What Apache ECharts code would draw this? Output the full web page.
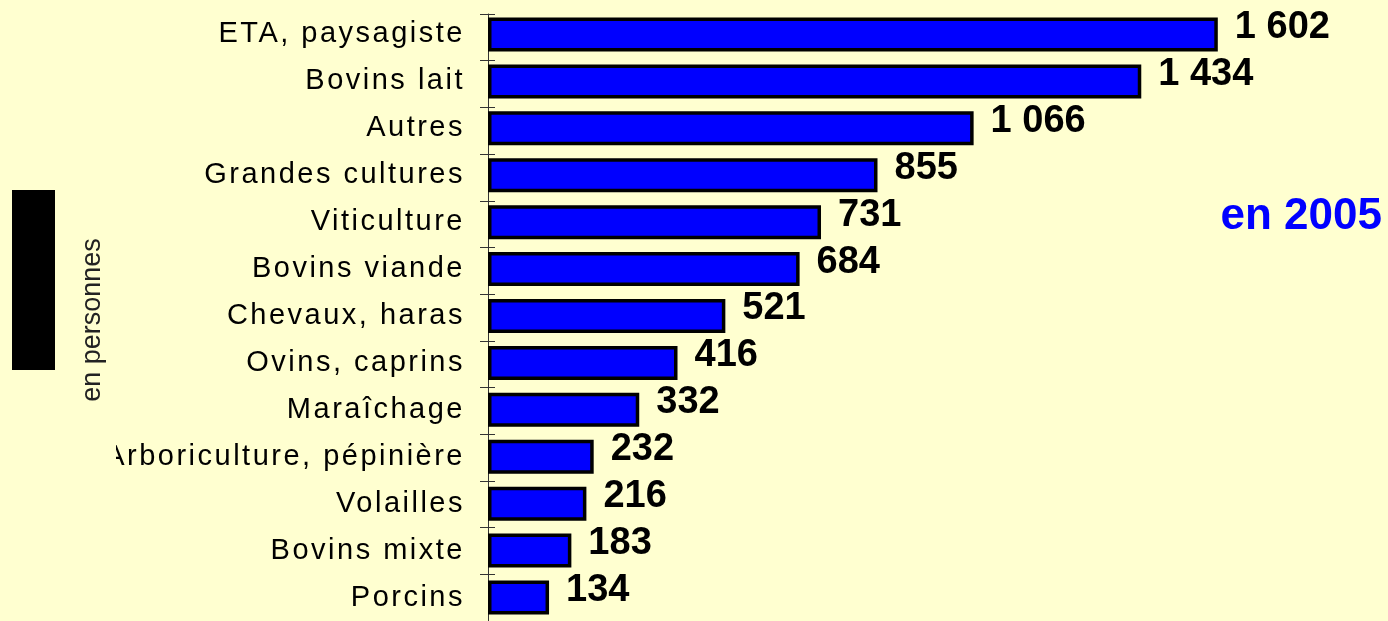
<!DOCTYPE html>
<html>
<head>
<meta charset="utf-8">
<script src="https://cdn.jsdelivr.net/npm/echarts@6/dist/echarts.min.js"></script>
<style>
  html, body { margin: 0; padding: 0; background: #ffffd0; }
  #chart { width: 1388px; height: 621px; }
</style>
</head>
<body>
<div id="chart"></div>
<script>
// catégories et effectifs (en personnes, 2005)
const categories = ['ETA, paysagiste', 'Bovins lait', 'Autres', 'Grandes cultures', 'Viticulture',
  'Bovins viande', 'Chevaux, haras', 'Ovins, caprins', 'Maraîchage', 'Arboriculture, pépinière',
  'Volailles', 'Bovins mixte', 'Porcins']
const values = [1602, 1434, 1066, 855, 731, 684, 521, 416, 332, 232, 216, 183, 134]
const unitLabel = 'en personnes'
const yearLabel = 'en 2005'

// labels de catégorie espacés : on règle letterSpacing sur le contexte canvas
const proto = CanvasRenderingContext2D.prototype
const origFill = proto.fillText
proto.fillText = function (t, x, y, w) {
  if ('letterSpacing' in this) {
    this.letterSpacing = this.font.indexOf('Arimo') >= 0 ? '2.5px' : '0px'
  }
  return w === undefined ? origFill.call(this, t, x, y) : origFill.call(this, t, x, y, w)
}

function fmt (v) {
  const s = String(v)
  return s.length > 3 ? s.slice(0, s.length - 3) + ' ' + s.slice(-3) : s
}

const chart = echarts.init(document.getElementById('chart'))
const slot = 47.06
const h = slot * categories.length

chart.setOption({
  backgroundColor: '#ffffd0',
  animation: false,
  grid: [
    { left: 488, top: 11, width: 820, height: h },
    { left: 488, top: 14, width: 820, height: h }
  ],
  xAxis: [
    { type: 'value', gridIndex: 0, min: 0, max: 1800, show: false },
    { type: 'value', gridIndex: 1, min: 0, max: 1800, show: false }
  ],
  yAxis: [
    {
      type: 'category',
      gridIndex: 0,
      position: 'left',
      inverse: true,
      data: categories,
      axisLine: { show: false },
      axisTick: { show: false },
      axisLabel: {
        margin: 23,
        padding: [5, 0, 0, 0],
        color: '#000',
        fontSize: 29,
        fontFamily: 'Arimo, "Liberation Sans", Arial, sans-serif'
      }
    },
    {
      type: 'category',
      gridIndex: 1,
      position: 'left',
      inverse: true,
      data: categories,
      axisLine: { show: true, lineStyle: { color: '#333', width: 1 } },
      axisTick: { show: true, length: 8, lineStyle: { color: '#333' } },
      axisLabel: { show: false }
    },
    {
      type: 'category',
      gridIndex: 1,
      position: 'left',
      offset: 0,
      inverse: true,
      data: categories,
      z: 5,
      axisLine: { show: false },
      axisTick: { show: true, inside: true, length: 7, lineStyle: { color: '#333' } },
      axisLabel: { show: false }
    }
  ],
  series: [
    {
      type: 'bar',
      xAxisIndex: 0,
      yAxisIndex: 0,
      data: values,
      barWidth: 34,
      itemStyle: { color: '#0000ff', borderColor: '#000', borderWidth: 3.5 },
      label: {
        show: true,
        position: 'right',
        distance: 17,
        offset: [0, -7],
        formatter: p => fmt(p.value),
        color: '#000',
        fontSize: 38,
        fontWeight: 'bold',
        fontFamily: '"Liberation Sans", Arial, sans-serif'
      }
    }
  ],
  graphic: [
    // la marge gauche coupe le libellé le plus long
    { type: 'rect', z: 100, shape: { x: 0, y: 0, width: 116, height: 621 }, style: { fill: '#ffffd0' } },
    { type: 'rect', z: 101, shape: { x: 12, y: 190, width: 43, height: 180 }, style: { fill: '#000' } },
    {
      type: 'text',
      z: 101,
      x: 93,
      y: 320,
      rotation: Math.PI / 2,
      style: {
        text: unitLabel,
        fill: '#222',
        fontSize: 27,
        fontFamily: '"Liberation Sans", sans-serif',
        align: 'center',
        verticalAlign: 'middle'
      }
    },
    {
      type: 'text',
      z: 101,
      x: 1382,
      y: 217,
      style: {
        text: yearLabel,
        fill: '#0000ff',
        fontSize: 44,
        fontWeight: 'bold',
        fontFamily: '"Liberation Sans", Arial, sans-serif',
        align: 'right',
        verticalAlign: 'middle'
      }
    }
  ]
})
</script>
</body>
</html>
